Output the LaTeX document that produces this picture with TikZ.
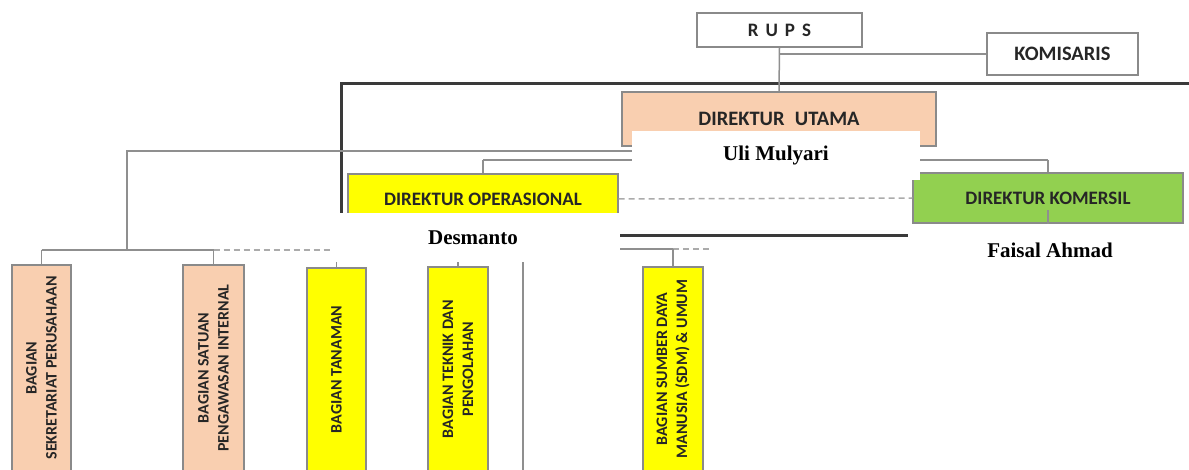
\documentclass[tikz,border=0pt]{standalone}
\usepackage{fontspec}
\newfontfamily\lab{Carlito}
\newfontfamily\nm{Liberation Serif}
\definecolor{peach}{HTML}{F9CFB0}
\definecolor{yel}{HTML}{FFFF00}
\definecolor{grn}{HTML}{92D050}
\definecolor{conn}{HTML}{8F8F8F}
\definecolor{bord}{HTML}{8A8A8A}
\definecolor{frame}{HTML}{3A3A3A}
\definecolor{txt}{HTML}{262626}
\tikzset{
  box/.style={draw=bord, line width=1.2pt, inner sep=0pt, font=\lab\bfseries\fontsize{19}{22}\selectfont, text=txt},
  bigbox/.style={box, font=\lab\bfseries\fontsize{20.5}{24}\selectfont},
  vbox/.style={box, rotate=90, align=center, font=\lab\bfseries\fontsize{16}{20}\selectfont},
  namebox/.style={fill=white, inner sep=0pt, font=\nm\bfseries\fontsize{21}{24}\selectfont},
  conline/.style={draw=conn, line width=1.5pt},
  dashline/.style={draw=conn!75, line width=1.5pt, dash pattern=on 6pt off 4pt},
  thickline/.style={draw=frame, line width=3pt}
}
\begin{document}
\begin{tikzpicture}[x=1pt,y=-1pt]
\useasboundingbox (0,0) rectangle (1189,470);
\clip (0,0) rectangle (1189,470);
% coordinates
\coordinate (f1) at (1189,84);
\coordinate (f2) at (341,84);
\coordinate (f3) at (341,236);
\coordinate (f4) at (908,236);
\coordinate (h1) at (779,151);
\coordinate (h1l) at (127,151);
\coordinate (h1d) at (127,250);
\coordinate (h2) at (779,160);
\coordinate (h3) at (483,249);
\coordinate (dashend1) at (333,250);
\coordinate (dashend2) at (712,249);
\coordinate (vl) at (523,470);
% frame
\draw[thickline] (f1) -- (f2) -- (f3) -- (f4);
% nodes
\node[box, minimum width=165, minimum height=34] (rups) at (779.5,30) {R\hspace{7pt}U\hspace{7pt}P\hspace{7pt}S};
\node[bigbox, minimum width=151, minimum height=42] (kom) at (1062.5,54) {KOMISARIS};
\node[bigbox, fill=peach, minimum width=314, minimum height=54] (dirut) at (779,119) {DIREKTUR\hspace{0.5em}UTAMA};
\node[box, fill=yel, minimum width=270, minimum height=50] (dirop) at (483,199) {DIREKTUR OPERASIONAL};
\node[box, fill=grn, minimum width=270, minimum height=50] (dirkom) at (1048,198) {DIREKTUR KOMERSIL};
\node[vbox, fill=peach, minimum width=206, minimum height=59] (b1) at (41.5,368) {BAGIAN\\SEKRETARIAT PERUSAHAAN};
\node[vbox, fill=peach, minimum width=206, minimum height=61] (b2) at (213.5,368) {BAGIAN SATUAN\\PENGAWASAN INTERNAL};
\node[vbox, fill=yel, minimum width=203, minimum height=59] (b3) at (336.5,369.5) {BAGIAN TANAMAN};
\node[vbox, fill=yel, minimum width=204, minimum height=60] (b4) at (458,369) {BAGIAN TEKNIK DAN\\PENGOLAHAN};
\node[vbox, fill=yel, minimum width=204, minimum height=60] (b5) at (673,369) {BAGIAN SUMBER DAYA\\MANUSIA (SDM) \& UMUM};
% connectors
\draw[conline] (rups.south) -- (dirut.north);
\draw[conline] (rups.south |- kom.west) -- (kom.west);
\draw[conline] (h1) -- (h1l) -- (h1d);
\draw[conline] (b1.east |- h1d) -- (b2.east |- h1d);
\draw[dashline] (b2.east |- h1d) -- (dashend1);
\draw[conline] (b1.east |- h1d) -- (b1.east);
\draw[conline] (b2.east |- h1d) -- (b2.east);
\draw[conline] (dirop.north |- h2) -- (dirkom.north |- h2);
\draw[conline] (dirop.north |- h2) -- (dirop.north);
\draw[conline] (dirkom.north |- h2) -- (dirkom.north);
\draw[dashline] (dirop.east) -- (dirkom.west);
\draw[conline] (dirkom.south) -- ++(0,-14);
\draw[conline] (dirop.south) -- (h3);
\draw[conline] (b3.east |- h3) -- (b5.east |- h3);
\draw[dashline] (b5.east |- h3) -- (dashend2);
\draw[conline] (b3.east |- h3) -- (b3.east);
\draw[conline] (b4.east |- h3) -- (b4.east);
\draw[conline] (b5.east |- h3) -- (b5.east);
\draw[conline] (vl |- h3) -- (vl);
% name boxes
\node[namebox, minimum width=288, minimum height=49] (uli) at (776,155.5) {Uli Mulyari};
\node[namebox, minimum width=287, minimum height=49] (desm) at (476.5,237.5) {\hspace{-7pt}Desmanto};
\node[namebox, minimum width=281, minimum height=44] (fais) at (1050,250) {Faisal Ahmad};
\end{tikzpicture}
\end{document}
